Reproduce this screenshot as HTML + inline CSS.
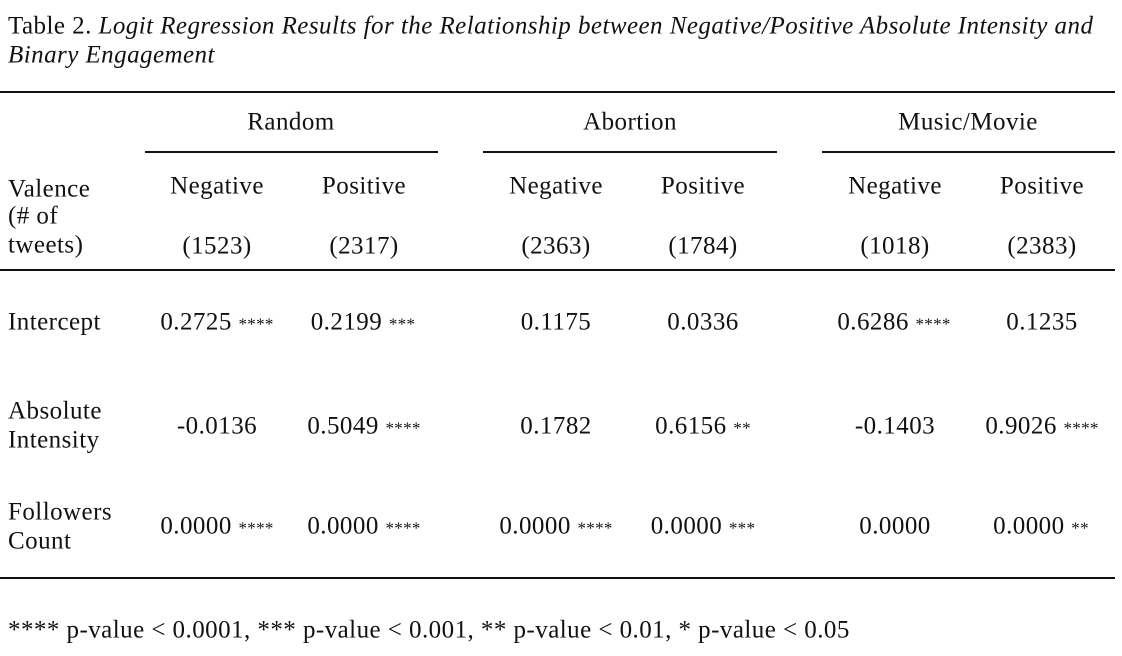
<!DOCTYPE html>
<html><head><meta charset="utf-8">
<style>
body{margin:0;width:1122px;height:656px;background:#fff;position:relative;overflow:hidden;font-family:"Liberation Serif",serif;color:#111;font-size:25px;letter-spacing:0.45px;}
.t{position:absolute;white-space:nowrap;line-height:1;transform:translate(-50%,-50%);}
.l{position:absolute;white-space:nowrap;line-height:1;transform:translateY(-50%);}
.hl{position:absolute;background:#111;height:2px;}
.s{font-size:17px;letter-spacing:0.3px;}
</style></head><body>
<div class="l" style="left:8px;top:26px;">Table 2. <i>Logit Regression Results for the Relationship between Negative/Positive Absolute Intensity and</i></div>
<div class="l" style="left:8px;top:55px;"><i>Binary Engagement</i></div>

<div class="hl" style="left:0;top:91px;width:1115px;"></div>
<div class="hl" style="left:145px;top:151px;width:293px;"></div>
<div class="hl" style="left:483px;top:151px;width:294px;"></div>
<div class="hl" style="left:822px;top:151px;width:293px;"></div>
<div class="hl" style="left:0;top:269px;width:1115px;"></div>
<div class="hl" style="left:0;top:577px;width:1115px;"></div>

<div class="t" style="left:291px;top:122px;">Random</div>
<div class="t" style="left:630px;top:122px;">Abortion</div>
<div class="t" style="left:968px;top:122px;">Music/Movie</div>

<div class="l" style="left:8px;top:189px;">Valence</div>
<div class="l" style="left:8px;top:216px;">(# of</div>
<div class="l" style="left:8px;top:245px;">tweets)</div>

<div class="t" style="left:217px;top:186px;">Negative</div>
<div class="t" style="left:364px;top:186px;">Positive</div>
<div class="t" style="left:556px;top:186px;">Negative</div>
<div class="t" style="left:703px;top:186px;">Positive</div>
<div class="t" style="left:895px;top:186px;">Negative</div>
<div class="t" style="left:1042px;top:186px;">Positive</div>

<div class="t" style="left:217px;top:246px;">(1523)</div>
<div class="t" style="left:364px;top:246px;">(2317)</div>
<div class="t" style="left:556px;top:246px;">(2363)</div>
<div class="t" style="left:703px;top:246px;">(1784)</div>
<div class="t" style="left:895px;top:246px;">(1018)</div>
<div class="t" style="left:1042px;top:246px;">(2383)</div>

<div class="l" style="left:8px;top:322px;">Intercept</div>
<div class="t" style="left:217px;top:322px;">0.2725 <span class="s">****</span></div>
<div class="t" style="left:363px;top:322px;">0.2199 <span class="s">***</span></div>
<div class="t" style="left:556px;top:322px;">0.1175</div>
<div class="t" style="left:703px;top:322px;">0.0336</div>
<div class="t" style="left:894px;top:322px;">0.6286 <span class="s">****</span></div>
<div class="t" style="left:1042px;top:322px;">0.1235</div>

<div class="l" style="left:8px;top:411px;">Absolute</div>
<div class="l" style="left:8px;top:440px;">Intensity</div>
<div class="t" style="left:217px;top:426px;">-0.0136</div>
<div class="t" style="left:364px;top:426px;">0.5049 <span class="s">****</span></div>
<div class="t" style="left:556px;top:426px;">0.1782</div>
<div class="t" style="left:703px;top:426px;">0.6156 <span class="s">**</span></div>
<div class="t" style="left:895px;top:426px;">-0.1403</div>
<div class="t" style="left:1042px;top:426px;">0.9026 <span class="s">****</span></div>

<div class="l" style="left:8px;top:512px;">Followers</div>
<div class="l" style="left:8px;top:541px;">Count</div>
<div class="t" style="left:217px;top:526px;">0.0000 <span class="s">****</span></div>
<div class="t" style="left:364px;top:526px;">0.0000 <span class="s">****</span></div>
<div class="t" style="left:556px;top:526px;">0.0000 <span class="s">****</span></div>
<div class="t" style="left:703px;top:526px;">0.0000 <span class="s">***</span></div>
<div class="t" style="left:895px;top:526px;">0.0000</div>
<div class="t" style="left:1041px;top:526px;">0.0000 <span class="s">**</span></div>

<div class="l" style="left:8px;top:630px;">**** p-value &lt; 0.0001, *** p-value &lt; 0.001, ** p-value &lt; 0.01, * p-value &lt; 0.05</div>
</body></html>
